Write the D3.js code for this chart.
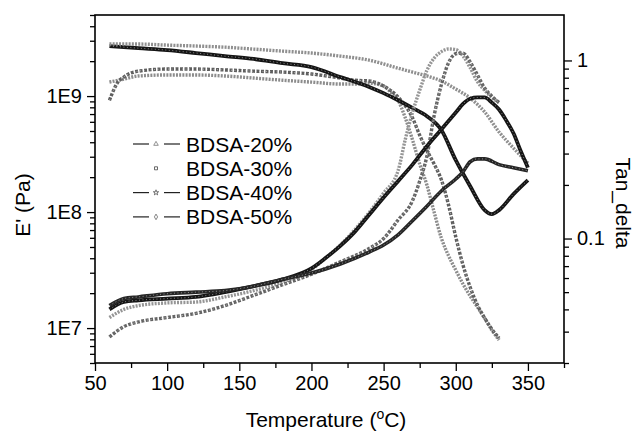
<!DOCTYPE html>
<html><head><meta charset="utf-8">
<script src="https://cdn.jsdelivr.net/npm/d3@7"></script>
<style>
html,body{margin:0;padding:0;background:#fff;}
svg{display:block;font-family:"Liberation Sans",Arial,sans-serif;}
</style></head>
<body><svg id="c" width="636" height="431"></svg>
<script>
// ---------- data ----------
const seriesNames = ["BDSA-20%", "BDSA-30%", "BDSA-40%", "BDSA-50%"];
const xTickValues = [50, 100, 150, 200, 250, 300, 350];
const leftTickValues = [1e7, 1e8, 1e9];
const leftTickLabels = ["1E7", "1E8", "1E9"];
const rightTickValues = [0.1, 1];
const rightTickLabels = ["0.1", "1"];

// storage modulus E' (Pa)
const tempE20 = [60,70,80,100,120,140,160,180,200,220,230,240,250,255,260,265,270,275,280,285,290,295,300,305,310,315,320,325,330];
const modE20  = [1.32e9,1.40e9,1.49e9,1.52e9,1.52e9,1.49e9,1.43e9,1.37e9,1.32e9,1.27e9,1.27e9,1.29e9,1.22e9,1.08e9,9.2e8,6.5e8,4.2e8,2.6e8,1.71e8,1.0e8,5.97e7,4.2e7,3.16e7,2.4e7,1.89e7,1.52e7,1.22e7,9.6e6,7.9e6];
const tempE30 = [60,62,65,70,80,100,120,140,160,180,200,220,230,240,250,260,270,275,280,285,290,295,300,305,310,315,320,325,330];
const modE30  = [9.2e8,1.06e9,1.27e9,1.46e9,1.64e9,1.71e9,1.71e9,1.68e9,1.64e9,1.61e9,1.55e9,1.43e9,1.37e9,1.35e9,1.22e9,9.8e8,6.5e8,4.6e8,3.4e8,2.6e8,1.9e8,1.15e8,6.1e7,3.5e7,2.25e7,1.58e7,1.22e7,9.8e6,8.2e6];
const tempE40 = [60,80,100,120,140,160,180,200,220,240,250,260,270,280,290,300,310,320,325,330,340,350];
const modE40  = [2.70e9,2.59e9,2.49e9,2.35e9,2.21e9,2.09e9,1.92e9,1.78e9,1.46e9,1.20e9,1.06e9,9.2e8,7.9e8,6.7e8,5.1e8,2.8e8,1.67e8,1.04e8,9.6e7,1.04e8,1.43e8,1.89e8];
const tempE50 = [60,80,100,120,140,160,180,200,220,240,260,270,280,290,300,310,320,330,340,350];
const modE50  = [2.81e9,2.81e9,2.75e9,2.70e9,2.64e9,2.54e9,2.44e9,2.35e9,2.21e9,2.04e9,1.74e9,1.61e9,1.49e9,1.35e9,1.15e9,9.6e8,7.3e8,4.9e8,3.56e8,2.64e8];

// tan delta
const tempT20 = [60,70,80,100,120,140,160,180,200,210,220,230,240,250,260,265,270,275,280,285,290,295,300,305,310,315,320,325,330];
const tanT20  = [0.036,0.040,0.042,0.0435,0.044,0.047,0.051,0.057,0.067,0.078,0.092,0.112,0.14,0.18,0.24,0.36,0.51,0.68,0.88,1.03,1.12,1.16,1.15,1.06,0.91,0.76,0.68,0.62,0.58];
const tempT30 = [60,70,80,100,120,140,160,180,200,220,240,250,260,270,275,280,285,290,295,300,305,310,315,320,325,330];
const tanT30  = [0.028,0.032,0.034,0.036,0.038,0.042,0.048,0.055,0.063,0.074,0.088,0.10,0.127,0.163,0.21,0.29,0.49,0.73,0.97,1.09,1.10,0.98,0.83,0.70,0.63,0.58];
const tempT40 = [60,70,80,100,120,140,160,180,200,210,220,230,240,250,260,270,280,290,300,305,310,315,320,325,330,335,340,345,350];
const tanT40  = [0.040,0.044,0.045,0.046,0.047,0.050,0.054,0.059,0.068,0.078,0.091,0.109,0.136,0.17,0.21,0.26,0.33,0.41,0.51,0.57,0.61,0.62,0.62,0.58,0.53,0.46,0.39,0.31,0.25];
const tempT50 = [60,70,80,100,120,140,160,180,200,220,240,250,260,270,280,290,300,305,310,315,320,330,340,350];
const tanT50  = [0.042,0.046,0.047,0.049,0.050,0.051,0.054,0.059,0.064,0.072,0.084,0.092,0.105,0.126,0.152,0.185,0.216,0.237,0.27,0.28,0.28,0.26,0.25,0.24];

// ---------- layout ----------
const svg = d3.select("#c");
const L = 95, R = 564, T = 15, B = 363;
const x = d3.scaleLinear().domain([50, 375]).range([L, R]);
const yL = d3.scaleLog().domain([5e6, 5e9]).range([B, T]);
const yR = d3.scaleLog().domain([0.02, 1.8]).range([B, T]);

const curves = [
  {t: tempE20, v: modE20, axis: yL, color: "#8c8c8c", w: 3.4, dash: "2,1.2", hollow: false},
  {t: tempE30, v: modE30, axis: yL, color: "#5e5e5e", w: 3.4, dash: "3,1.5", hollow: true},
  {t: tempE40, v: modE40, axis: yL, color: "#151515", w: 3.8, dash: null, hollow: true},
  {t: tempE50, v: modE50, axis: yL, color: "#8f8f8f", w: 3.4, dash: "2,1.2", hollow: false},
  {t: tempT20, v: tanT20, axis: yR, color: "#959595", w: 3.4, dash: "2,1.2", hollow: false},
  {t: tempT30, v: tanT30, axis: yR, color: "#646464", w: 3.4, dash: "3,1.5", hollow: true},
  {t: tempT40, v: tanT40, axis: yR, color: "#151515", w: 3.8, dash: null, hollow: true},
  {t: tempT50, v: tanT50, axis: yR, color: "#262626", w: 3.6, dash: null, hollow: true}
];

const g = svg.append("g");
curves.forEach(c => {
  const pts = c.t.map((t, i) => [t, c.v[i]]);
  const line = d3.line().x(d => x(d[0])).y(d => c.axis(d[1])).curve(d3.curveMonotoneX);
  g.append("path").attr("d", line(pts)).attr("fill", "none")
    .attr("stroke", c.color).attr("stroke-width", c.w)
    .attr("stroke-dasharray", c.dash);
  if (c.hollow) {
    g.append("path").attr("d", line(pts)).attr("fill", "none")
      .attr("stroke", "#fff").attr("stroke-opacity", 0.55).attr("stroke-width", 0.9)
      .attr("stroke-dasharray", "1,2.5");
  }
});

// ---------- axes ----------
const fs = 20;
function styleAxis(sel) {
  sel.select(".domain").remove();
  sel.selectAll("line").attr("stroke", "#000").attr("stroke-width", 1.3);
  sel.selectAll("text").attr("font-size", fs).attr("fill", "#000")
     .attr("font-family", "Liberation Sans, Arial, sans-serif");
}
// x axis
const xMinor = d3.range(75, 376, 50);
svg.append("g").attr("transform", `translate(0,${B})`)
  .call(d3.axisBottom(x).tickValues(xTickValues).tickSize(8).tickPadding(5).tickFormat(d3.format("d")))
  .call(styleAxis);
svg.append("g").attr("transform", `translate(0,${B})`)
  .call(d3.axisBottom(x).tickValues(xMinor).tickSize(5).tickFormat(""))
  .call(styleAxis);
// left axis
const leftMinor = [];
[1e6, 1e7, 1e8, 1e9].forEach(dec => { for (let k = 2; k <= 9; k++) { const v = dec * k; if (v >= 5e6 && v <= 5e9) leftMinor.push(v); } });
svg.append("g").attr("transform", `translate(${L},0)`)
  .call(d3.axisLeft(yL).tickValues(leftTickValues).tickSize(8).tickPadding(5)
    .tickFormat((d, i) => leftTickLabels[i]))
  .call(styleAxis);
svg.append("g").attr("transform", `translate(${L},0)`)
  .call(d3.axisLeft(yL).tickValues(leftMinor).tickSize(5).tickFormat(""))
  .call(styleAxis);
// right axis
const rightMinor = [];
[0.01, 0.1, 1].forEach(dec => { for (let k = 2; k <= 9; k++) { const v = dec * k; if (v >= 0.02 && v <= 1.8) rightMinor.push(v); } });
svg.append("g").attr("transform", `translate(${R},0)`)
  .call(d3.axisRight(yR).tickValues(rightTickValues).tickSize(8).tickPadding(5)
    .tickFormat((d, i) => rightTickLabels[i]))
  .call(styleAxis);
svg.append("g").attr("transform", `translate(${R},0)`)
  .call(d3.axisRight(yR).tickValues(rightMinor).tickSize(5).tickFormat(""))
  .call(styleAxis);

// frame
svg.append("rect").attr("x", L).attr("y", T).attr("width", R - L).attr("height", B - T)
  .attr("fill", "none").attr("stroke", "#000").attr("stroke-width", 1.6);

// axis titles
const xt = svg.append("text").attr("x", 326).attr("y", 427)
  .attr("text-anchor", "middle").attr("font-size", 21).text("Temperature (");
xt.append("tspan").attr("font-size", 14).attr("dy", -8).text("o");
xt.append("tspan").attr("dy", 8).text("C)");
svg.append("text").attr("transform", "translate(30,205) rotate(-90)")
  .attr("text-anchor", "middle").attr("font-size", 21).text("E' (Pa)");
svg.append("text").attr("transform", "translate(616,203) rotate(90)")
  .attr("text-anchor", "middle").attr("font-size", 21).text("Tan_delta");

// ---------- legend ----------
const legendSymbols = [d3.symbolTriangle, d3.symbolSquare, d3.symbolStar, d3.symbolDiamond];
const legendHasLine = [true, false, true, true];
const legendColors = ["#777", "#444", "#555", "#666"];
const lg = svg.append("g");
seriesNames.forEach((name, i) => {
  const yy = 144 + i * 24.3;
  if (legendHasLine[i]) {
    lg.append("line").attr("x1", 133).attr("x2", 149).attr("y1", yy).attr("y2", yy).attr("stroke", "#222").attr("stroke-width", 1.2);
    lg.append("line").attr("x1", 164).attr("x2", 180).attr("y1", yy).attr("y2", yy).attr("stroke", "#222").attr("stroke-width", 1.2);
  }
  lg.append("path").attr("d", d3.symbol().type(legendSymbols[i]).size(9)())
    .attr("transform", `translate(156,${yy})`).attr("fill", "none")
    .attr("stroke", legendColors[i]).attr("stroke-width", 0.8);
  lg.append("text").attr("x", 186).attr("y", yy + 7.5).attr("font-size", 21).text(name);
});
</script></body></html>
